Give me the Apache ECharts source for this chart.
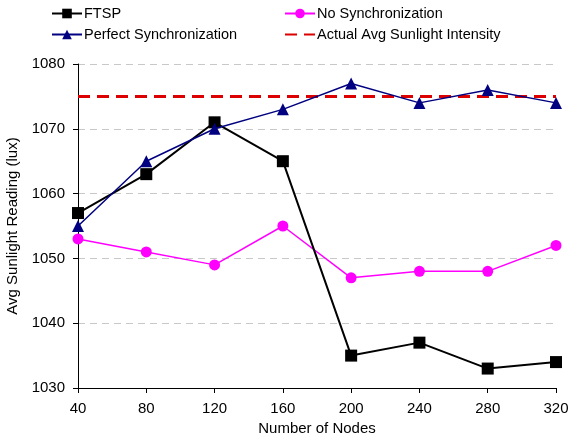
<!DOCTYPE html>
<html>
<head>
<meta charset="utf-8">
<script src="https://cdn.jsdelivr.net/npm/echarts@6/dist/echarts.min.js"></script>
<style>
  html, body { margin: 0; padding: 0; background: #fff; }
  #chart { width: 568px; height: 440px; }
</style>
</head>
<body>
<div id="chart"></div>
<script>
var nodes = [40, 80, 120, 160, 200, 240, 280, 320];
var ftsp = [1057, 1063, 1071, 1065, 1035, 1037, 1033, 1034];
var noSync = [1053, 1051, 1049, 1055, 1047, 1048, 1048, 1052];
var perfectSync = [1055, 1065, 1070, 1073, 1077, 1074, 1076, 1074];
var actualAvg = [1075, 1075, 1075, 1075, 1075, 1075, 1075, 1075];

function pairs(ys) {
  return nodes.map(function (x, i) { return [x, ys[i]]; });
}

var myChart = echarts.init(document.getElementById('chart'));
var font = 'Liberation Sans, Arial, sans-serif';

var legendText = { fontSize: 14.5, color: '#000', padding: [0, 0, 0, -3] };

var option = {
  animation: false,
  textStyle: { fontFamily: font, color: '#000' },
  legend: [{
    orient: 'vertical',
    left: 51,
    top: 6,
    padding: 0,
    itemWidth: 30,
    itemHeight: 12,
    itemGap: 6,
    textStyle: legendText,
    data: ['FTSP', 'Perfect Synchronization']
  }, {
    orient: 'vertical',
    left: 284,
    top: 6,
    padding: 0,
    itemWidth: 30,
    itemHeight: 12,
    itemGap: 6,
    textStyle: legendText,
    data: ['No Synchronization', {
      name: 'Actual Avg Sunlight Intensity',
      itemStyle: { opacity: 0 }
    }]
  }],
  grid: { left: 78, right: 12, top: 64, bottom: 52, containLabel: false, outerBoundsMode: 'none' },
  xAxis: {
    type: 'value',
    min: 40,
    max: 320,
    interval: 40,
    name: 'Number of Nodes',
    nameLocation: 'middle',
    nameGap: 32,
    nameTextStyle: { fontSize: 15, color: '#000' },
    axisLine: { lineStyle: { color: '#000', width: 1 } },
    axisTick: { length: 5, lineStyle: { color: '#000' } },
    axisLabel: { fontSize: 15, color: '#000', margin: 13 },
    splitLine: { show: false }
  },
  yAxis: {
    type: 'value',
    min: 1030,
    max: 1080,
    interval: 10,
    name: 'Avg Sunlight Reading (lux)',
    nameLocation: 'middle',
    nameGap: 47,
    nameTextStyle: { fontSize: 15, color: '#000' },
    axisLine: { show: true, lineStyle: { color: '#000', width: 1 } },
    axisTick: { show: true, length: 5, lineStyle: { color: '#000' } },
    axisLabel: { fontSize: 15, color: '#000', margin: 13, formatter: function (v) { return String(v); } },
    splitLine: { lineStyle: { color: '#c8c8c8', type: [7, 5], width: 1 } }
  },
  series: [{
    name: 'Actual Avg Sunlight Intensity',
    type: 'line',
    symbol: 'none',
    color: '#dd0000',
    lineStyle: { color: '#dd0000', width: 3, type: [12, 7] },
    z: 1,
    data: pairs(actualAvg)
  }, {
    name: 'No Synchronization',
    type: 'line',
    symbol: 'circle',
    symbolSize: 11,
    color: '#ff00ff',
    lineStyle: { color: '#ff00ff', width: 1.5 },
    itemStyle: { color: '#ff00ff' },
    z: 2,
    data: pairs(noSync)
  }, {
    name: 'FTSP',
    type: 'line',
    symbol: 'rect',
    symbolSize: 12,
    color: '#000',
    lineStyle: { color: '#000', width: 2 },
    itemStyle: { color: '#000' },
    z: 3,
    data: pairs(ftsp)
  }, {
    name: 'Perfect Synchronization',
    type: 'line',
    symbol: 'triangle',
    symbolSize: 12,
    color: '#000080',
    lineStyle: { color: '#000080', width: 1.5 },
    itemStyle: { color: '#000080' },
    z: 4,
    data: pairs(perfectSync)
  }]
};

myChart.setOption(option);
</script>
</body>
</html>
